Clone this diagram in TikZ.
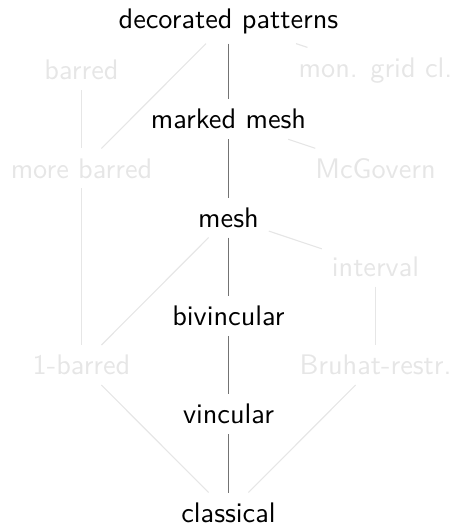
\documentclass[tikz,border=0pt]{standalone}
\usepackage{tikz}
\definecolor{faint}{RGB}{230,230,230}
\definecolor{strong}{RGB}{115,115,115}
\tikzset{
  lbl/.style={font=\sffamily, inner sep=0.3333em},
  main/.style={lbl, text=black},
  side/.style={lbl, text=faint},
  mainedge/.style={draw=strong, line width=0.7pt},
  sideedge/.style={draw=faint, line width=0.4pt}
}
\begin{document}
\begin{tikzpicture}[x=0.35336pt,y=-0.35336pt]
\useasboundingbox (0,0) rectangle (454,523);
\def\lx{81.5}\def\cx{228.5}\def\rx{375.5}
\node[main] (dec) at (\cx,21) {decorated patterns};
\node[side] (bar) at (\lx,70.15) {barred};
\node[side] (mgc) at (\rx,70.15) {mon. grid cl.};
\node[main] (mm) at (\cx,119.3) {marked mesh};
\node[side] (mb) at (\lx,168.45) {more barred};
\node[side] (mcg) at (\rx,168.45) {McGovern};
\node[main] (mesh) at (\cx,217.6) {mesh};
\node[side] (int) at (\rx,266.75) {interval};
\node[main] (biv) at (\cx,315.9) {bivincular};
\node[side] (oneb) at (\lx,365.05) {1-barred};
\node[side] (bru) at (\rx,365.05) {Bruhat-restr.};
\node[main] (vin) at (\cx,414.2) {vincular};
\node[main] (cla) at (\cx,512.5) {classical};
\draw[sideedge] (dec) -- (mb);
\draw[sideedge] (dec) -- (mgc);
\draw[sideedge] (bar) -- (mb);
\draw[sideedge] (mm) -- (mcg);
\draw[sideedge] (mb) -- (oneb);
\draw[sideedge] (mesh) -- (oneb);
\draw[sideedge] (mesh) -- (int);
\draw[sideedge] (int) -- (bru);
\draw[sideedge] (oneb) -- (cla);
\draw[sideedge] (bru) -- (cla);
\draw[mainedge] (dec) -- (mm);
\draw[mainedge] (mm) -- (mesh);
\draw[mainedge] (mesh) -- (biv);
\draw[mainedge] (biv) -- (vin);
\draw[mainedge] (vin) -- (cla);
\end{tikzpicture}
\end{document}
